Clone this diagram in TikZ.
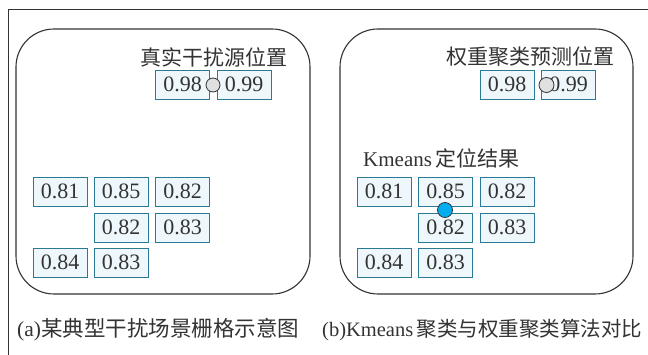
\documentclass[tikz,border=0pt]{standalone}
\usepackage{fontspec}
\setmainfont{Liberation Serif}
\newfontfamily\cjk{Noto Sans CJK SC}
\definecolor{cellc}{HTML}{2A7A96}
\definecolor{cellfill}{HTML}{EEF8FC}
\definecolor{txt}{HTML}{333333}
\definecolor{dotgray}{HTML}{E0E0E0}
\definecolor{dotblue}{HTML}{00AEEF}
\begin{document}
\begin{tikzpicture}[x=1pt,y=-1pt,
  cell/.style={draw=cellc,fill=cellfill,line width=0.8pt,minimum width=54pt,minimum height=29pt,inner sep=0pt,text=txt,font=\fontsize{22}{22}\selectfont},
  panel/.style={draw=txt,line width=1.1pt,rounded corners=38pt},
  lbl/.style={inner sep=0pt,text=txt,font=\fontsize{21}{21}\selectfont},
  captext/.style={inner sep=0pt,text=txt,font=\fontsize{21.5}{22}\selectfont},
  dot/.style={circle,draw=txt,line width=0.8pt,inner sep=0pt,minimum size=#1}]
\useasboundingbox (0,0) rectangle (648,355);
% outer frame
\coordinate (f0) at (8,355);
\coordinate (f1) at (8,9);
\coordinate (f2) at (648,9);
\draw[txt,line width=0.8pt] (f0) -- (f1) -- (f2);
% panels
\draw[panel] (16,29) rectangle (310,294);
\draw[panel] (340,29) rectangle (633,294);
% left panel
\node[lbl] (ta) at (214,57) {\cjk 真实干扰源位置};
\node[cell] (a98) at (182.5,84.5) {0.98};
\node[cell] (a99) at (244,84.5) {0.99};
\node[cell] (a11) at (60,191.5) {0.81};
\node[cell] (a12) at (121,191.5) {0.85};
\node[cell] (a13) at (182.5,191.5) {0.82};
\node[cell] (a22) at (121,227.5) {0.82};
\node[cell] (a23) at (182.5,227.5) {0.83};
\node[cell] (a31) at (60,262.5) {0.84};
\node[cell] (a32) at (121,262.5) {0.83};
\node[dot=14pt,fill=dotgray] (ad) at (213,85) {};
% right panel
\node[lbl] (tb) at (530.5,57) {\cjk 权重聚类预测位置};
\node[lbl,anchor=west] (tk) at (363,158) {Kmeans\,{\cjk 定位结果}};
\node[cell] (b98) at (507,84.5) {0.98};
\node[cell] (b99) at (568.5,84.5) {0.99};
\node[cell] (b11) at (384,191.5) {0.81};
\node[cell] (b12) at (445.5,191.5) {0.85};
\node[cell] (b13) at (507,191.5) {0.82};
\node[cell] (b22) at (445.5,227.5) {0.82};
\node[cell] (b23) at (507,227.5) {0.83};
\node[cell] (b31) at (384,262.5) {0.84};
\node[cell] (b32) at (445.5,262.5) {0.83};
\node[dot=15pt,fill=dotgray] (bd) at (546.5,85) {};
\node[dot=15pt,fill=dotblue] (kd) at (445,210) {};
% captions
\node[captext,anchor=west] (ca) at (17,330) {(a){\cjk 某典型干扰场景栅格示意图}};
\node[captext,anchor=west,font=\fontsize{20.5}{21}\selectfont] (cb) at (322,330) {(b)Kmeans\,{\cjk 聚类与权重聚类算法对比}};
\end{tikzpicture}
\end{document}
